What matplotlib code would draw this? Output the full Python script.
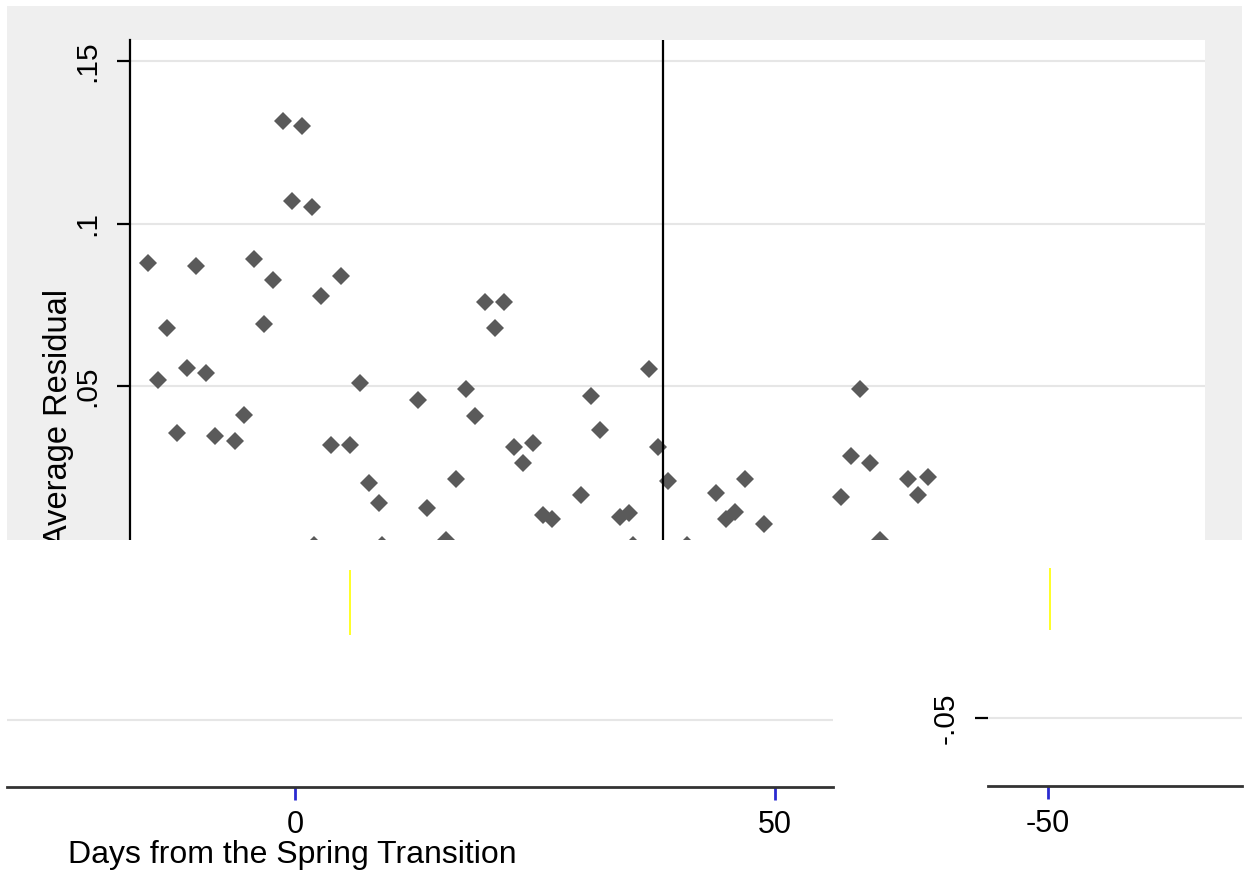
import matplotlib
matplotlib.use("Agg")
import matplotlib.pyplot as plt

plt.rcParams['font.family'] = ['Liberation Sans', 'DejaVu Sans']
plt.rcParams['axes.unicode_minus'] = False

# days from the spring transition / average residual
days = [-15, -14, -13, -12, -11, -10, -9, -8, -6, -5, -4, -3, -2, -1, 0, 1, 2, 3,
        4, 5, 6, 7, 8, 9, 13, 14, 17, 18, 19, 20, 21, 22, 23, 24, 25, 26, 27,
        30, 31, 32, 34, 35, 37, 38, 39, 44, 45, 46, 47, 49, 57, 58, 59, 60,
        64, 65, 66, 16, 61, 2.2, 9.3, 35.4, 41]
resid = [0.088, 0.052, 0.068, 0.0355, 0.0555, 0.087, 0.054, 0.0346, 0.033,
         0.041, 0.089, 0.069, 0.0826, 0.1315, 0.107, 0.130, 0.105, 0.0777,
         0.0318, 0.084, 0.0318, 0.051, 0.020, 0.014, 0.0457, 0.0123, 0.0214,
         0.049, 0.0408, 0.076, 0.0678, 0.076, 0.0311, 0.0262, 0.0326, 0.0103,
         0.009, 0.0165, 0.047, 0.0366, 0.0096, 0.011, 0.0553, 0.0311, 0.0208,
         0.0172, 0.009, 0.0111, 0.0214, 0.0075, 0.0158, 0.0284, 0.049, 0.0263,
         0.0214, 0.0165, 0.0221, 0.0026, 0.0026, 0.001, 0.001, 0.001, 0.001]

transition_line = 38.5
y_ticks = [0.05, 0.1, 0.15]
y_labels = ['.05', '.1', '.15']
x_ticks_left = [0, 50]
x_ticks_right = [-50]
neg_ticks = [-0.05]
neg_labels = ['-.05']
# stray yellow strokes in the lower part
stray_left = (5.7, -0.0238, -0.0038)
stray_right = (-49.8, -0.0228, -0.0038)

W, H = 1244, 876
BG = '#efefef'
GRID = '#e6e6e6'


def box(x0, y0, x1, y1):
    return [x0 / W, 1 - y1 / H, (x1 - x0) / W, (y1 - y0) / H]


def bare(a):
    a.set_xticks([])
    a.set_yticks([])
    for s in a.spines.values():
        s.set_visible(False)


fig = plt.figure(figsize=(W / 100, H / 100), dpi=100, facecolor='white')

bg = fig.add_axes(box(7, 6, 1242, 540), facecolor=BG, zorder=0)
bare(bg)

# main panel
ax = fig.add_axes(box(130, 40, 1205, 540), facecolor='white', zorder=1)
ax.plot(days, resid, 'D', color='#5a5a5a', ms=9.5, mew=0)
ax.axvline(transition_line, color='black', lw=1.6)
ax.set_xlim((130 - 292.4) / 9.626, (1205 - 292.4) / 9.626)
ax.set_ylim(0.0026, 0.1565)
ax.set_yticks(y_ticks)
ax.set_yticklabels(y_labels, rotation=90, va='center')
ax.set_xticks([])
ax.grid(axis='y', color=GRID, lw=1.5)
ax.set_axisbelow(True)
for s in ['top', 'right', 'bottom']:
    ax.spines[s].set_visible(False)
ax.spines['left'].set_linewidth(1.6)
ax.tick_params(axis='y', length=9.5, width=1.6, pad=11, labelsize=21.5)
ax.set_ylabel('Average Residual', fontsize=23.5)
ax.yaxis.set_label_coords(-0.052, 0.245)

# white lower area
cover = fig.add_axes(box(0, 540, 1244, 876), facecolor='white', zorder=2)
bare(cover)

# lower left piece
bl = fig.add_axes(box(7, 560, 833, 787), facecolor='none', zorder=3)
bl.set_xlim((7 - 295) / 9.6, (833 - 295) / 9.6)
bl.set_ylim(-0.05 - 67 / 3250, -0.05 + 160 / 3250)
bl.set_xticks(x_ticks_left)
bl.set_yticks(neg_ticks)
bl.set_yticklabels([])
bl.tick_params(axis='y', length=0)
bl.grid(axis='y', color=GRID, lw=1.5)
bl.vlines(stray_left[0], stray_left[1], stray_left[2], color='yellow', lw=1.2)
for s in ['top', 'right', 'left']:
    bl.spines[s].set_visible(False)
bl.spines['bottom'].set_linewidth(2)
bl.spines['bottom'].set_color('#333333')
bl.tick_params(axis='x', length=9.5, width=2, color='#2a2ad0', pad=7, labelsize=22)
bl.set_xlabel('Days from the Spring Transition', fontsize=23)
bl.xaxis.set_label_coords(0.346, -0.235)

# lower right piece
br = fig.add_axes(box(988, 560, 1242, 786), facecolor='none', zorder=3)
br.set_xlim(-50 - 60 / 9.6, -50 + 194 / 9.6)
br.set_ylim(-0.05 - 68 / 3250, -0.05 + 158 / 3250)
br.set_xticks(x_ticks_right)
br.set_yticks(neg_ticks)
br.set_yticklabels(neg_labels, rotation=90, va='center')
br.grid(axis='y', color=GRID, lw=1.5)
br.vlines(stray_right[0], stray_right[1], stray_right[2], color='yellow', lw=1.2)
for s in ['top', 'right', 'left']:
    br.spines[s].set_visible(False)
br.spines['bottom'].set_linewidth(2)
br.spines['bottom'].set_color('#333333')
br.tick_params(axis='x', length=9.5, width=2, color='#2a2ad0', pad=7, labelsize=22)
br.tick_params(axis='y', length=9.5, width=1.6, pad=11, labelsize=21.5)

fig.savefig('out.png', dpi=100, facecolor='white')
